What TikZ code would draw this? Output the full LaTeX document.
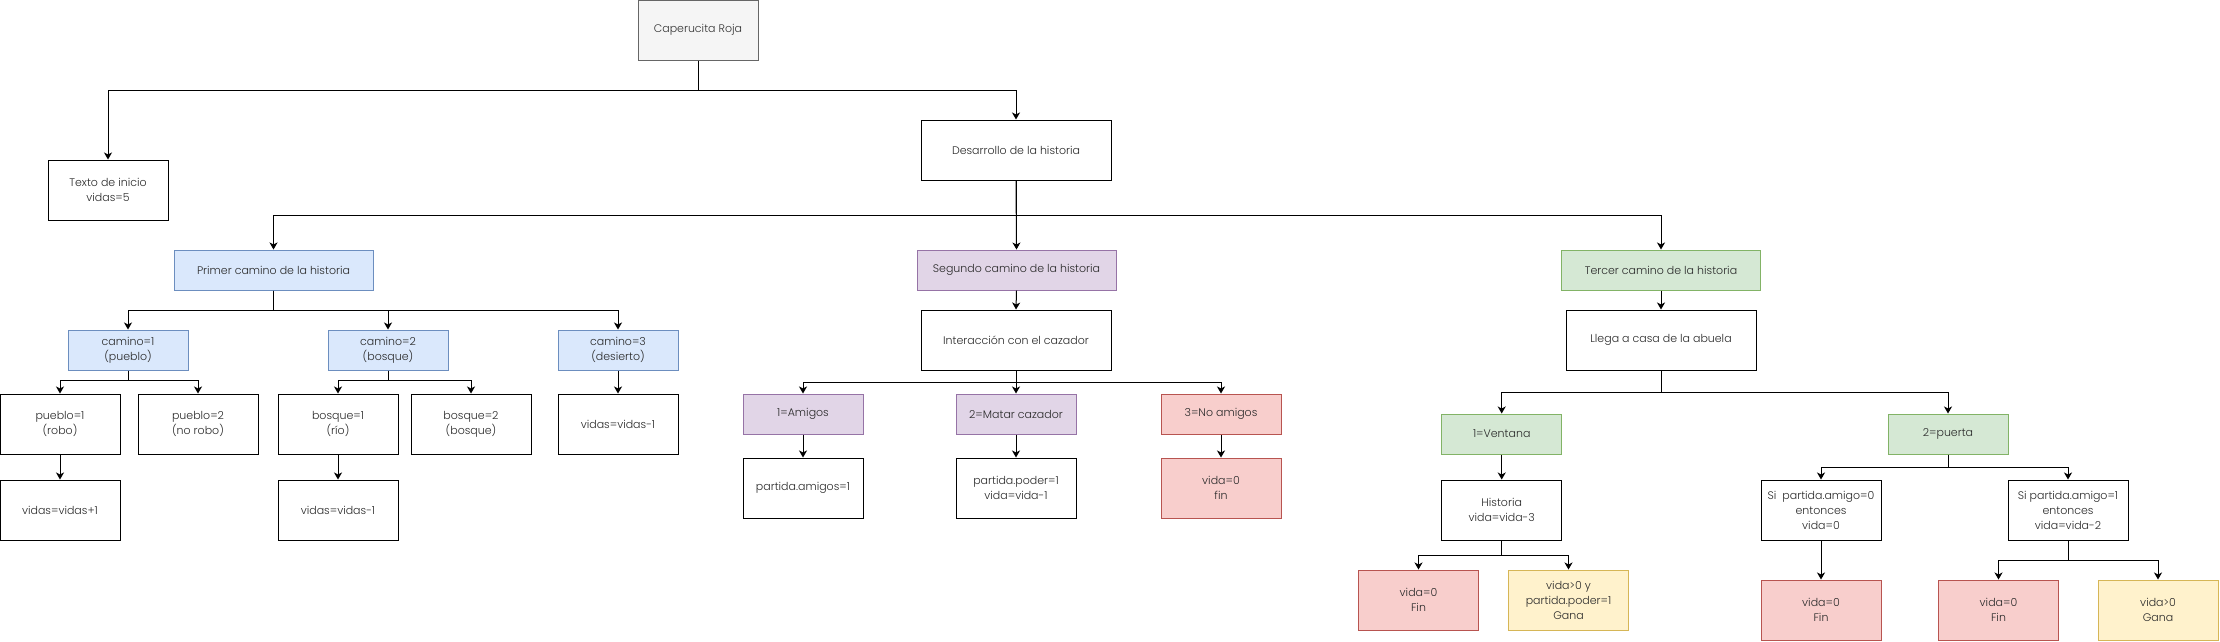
\documentclass[tikz,border=0pt]{standalone}
\usepackage{fontspec}
\IfFontExistsTF{Poppins Light}{\setmainfont{Poppins Light}}{\setmainfont{Poppins}}
\usetikzlibrary{arrows.meta}
\definecolor{grayfill}{HTML}{F5F5F5}
\definecolor{graystroke}{HTML}{666666}
\definecolor{bluefill}{HTML}{DAE8FC}
\definecolor{bluestroke}{HTML}{6C8EBF}
\definecolor{purplefill}{HTML}{E1D5E7}
\definecolor{purplestroke}{HTML}{9673A6}
\definecolor{greenfill}{HTML}{D5E8D4}
\definecolor{greenstroke}{HTML}{82B366}
\definecolor{redfill}{HTML}{F8CECC}
\definecolor{redstroke}{HTML}{B85450}
\definecolor{yellowfill}{HTML}{FFF2CC}
\definecolor{yellowstroke}{HTML}{D6B656}
\definecolor{txt}{HTML}{2A2A2A}
\begin{document}
\begin{tikzpicture}[x=1pt,y=-1pt,
  box/.style={draw=black, line width=1pt, fill=white, align=center, text=txt,
    font=\fontsize{11}{15}\selectfont, inner sep=0pt,
    minimum width=120pt, minimum height=60pt},
  short/.style={minimum height=40pt},
  wide/.style={minimum width=190pt},
  wider/.style={minimum width=199pt},
  graybox/.style={fill=grayfill, draw=graystroke, text=black!80},
  bluebox/.style={fill=bluefill, draw=bluestroke},
  purplebox/.style={fill=purplefill, draw=purplestroke},
  greenbox/.style={fill=greenfill, draw=greenstroke},
  redbox/.style={fill=redfill, draw=redstroke},
  yellowbox/.style={fill=yellowfill, draw=yellowstroke},
  arr/.style={draw=black, line width=1pt, -{Stealth[length=7pt,width=8pt,inset=2pt]}}
]
\useasboundingbox (0,0) rectangle (2220,641);

% level 0-1
\node[box, graybox] (cap) at (698,30) {Caperucita Roja};
\node[box] (tex) at (108,190) {Texto de inicio\\vidas=5};
\node[box, wide] (des) at (1016,150) {Desarrollo de la historia};

% level 2
\node[box, short, wider, bluebox] (pri) at (273.5,270) {Primer camino de la historia};
\node[box, short, wider, purplebox] (seg) at (1016.5,270) {Segundo camino de la historia};
\node[box, short, wider, greenbox] (ter) at (1661,270) {Tercer camino de la historia};

% first path
\node[box, short, bluebox] (c1) at (128,350) {camino=1\\(pueblo)};
\node[box, short, bluebox] (c2) at (388,350) {camino=2\\(bosque)};
\node[box, short, bluebox] (c3) at (618,350) {camino=3\\(desierto)};
\node[box] (p1) at (60,424) {pueblo=1\\(robo)};
\node[box] (p2) at (198,424) {pueblo=2\\(no robo)};
\node[box] (b1) at (338,424) {bosque=1\\(río)};
\node[box] (b2) at (471,424) {bosque=2\\(bosque)};
\node[box] (v3) at (618,424) {vidas=vidas-1};
\node[box] (vp) at (60,510) {vidas=vidas+1};
\node[box] (vb) at (338,510) {vidas=vidas-1};

% second path
\node[box, wide] (int) at (1016,340) {Interacción con el cazador};
\node[box, short, purplebox] (am) at (803,414) {1=Amigos};
\node[box, short, purplebox] (ma) at (1016,414) {2=Matar cazador};
\node[box, short, redbox] (na) at (1221,414) {3=No amigos};
\node[box] (pa) at (803,488) {partida.amigos=1};
\node[box] (pp) at (1016,488) {partida.poder=1\\vida=vida-1};
\node[box, redbox] (vf) at (1221,488) {vida=0\\fin};

% third path
\node[box, wide] (lle) at (1661,340) {Llega a casa de la abuela};
\node[box, short, greenbox] (ven) at (1501.7,434) {1=Ventana};
\node[box, short, greenbox] (pue) at (1948,434) {2=puerta};
\node[box] (his) at (1501.7,510) {Historia\\vida=vida-3};
\node[box] (a0) at (1821,510) {Si\ \ partida.amigo=0\\entonces\\vida=0};
\node[box] (a1) at (2068,510) {Si partida.amigo=1\\entonces\\vida=vida-2};
\node[box, redbox] (f1) at (1418.5,600) {vida=0\\Fin};
\node[box, yellowbox] (g1) at (1568.5,600) {vida>0 y\\partida.poder=1\\Gana};
\node[box, redbox] (f2) at (1821,610) {vida=0\\Fin};
\node[box, redbox] (f3) at (1998.5,610) {vida=0\\Fin};
\node[box, yellowbox] (g2) at (2158,610) {vida>0\\Gana};

% connectors
\draw[arr] (cap.south) -- ++(0,30) -| (tex.north);
\draw[arr] (cap.south) -- ++(0,30) -| (des.north);
\draw[arr] (des.south) -- ++(0,35) -| (pri.north);
\draw[arr] (des.south) -- (seg.north);
\draw[arr] (des.south) -- ++(0,35) -| (ter.north);

\draw[arr] (pri.south) -- ++(0,20) -| (c1.north);
\draw[arr] (pri.south) -- ++(0,20) -| (c2.north);
\draw[arr] (pri.south) -- ++(0,20) -| (c3.north);
\draw[arr] (c1.south) -- ++(0,10) -| (p1.north);
\draw[arr] (c1.south) -- ++(0,10) -| (p2.north);
\draw[arr] (c2.south) -- ++(0,10) -| (b1.north);
\draw[arr] (c2.south) -- ++(0,10) -| (b2.north);
\draw[arr] (c3.south) -- (v3.north);
\draw[arr] (p1.south) -- (vp.north);
\draw[arr] (b1.south) -- (vb.north);

\draw[arr] (seg.south) -- (int.north);
\draw[arr] (int.south) -- ++(0,12) -| (am.north);
\draw[arr] (int.south) -- (ma.north);
\draw[arr] (int.south) -- ++(0,12) -| (na.north);
\draw[arr] (am.south) -- (pa.north);
\draw[arr] (ma.south) -- (pp.north);
\draw[arr] (na.south) -- (vf.north);

\draw[arr] (ter.south) -- (lle.north);
\draw[arr] (lle.south) -- ++(0,22) -| (ven.north);
\draw[arr] (lle.south) -- ++(0,22) -| (pue.north);
\draw[arr] (ven.south) -- (his.north);
\draw[arr] (his.south) -- ++(0,15) -| (f1.north);
\draw[arr] (his.south) -- ++(0,15) -| (g1.north);
\draw[arr] (pue.south) -- ++(0,13) -| (a0.north);
\draw[arr] (pue.south) -- ++(0,13) -| (a1.north);
\draw[arr] (a0.south) -- (f2.north);
\draw[arr] (a1.south) -- ++(0,20) -| (f3.north);
\draw[arr] (a1.south) -- ++(0,20) -| (g2.north);
\end{tikzpicture}
\end{document}
